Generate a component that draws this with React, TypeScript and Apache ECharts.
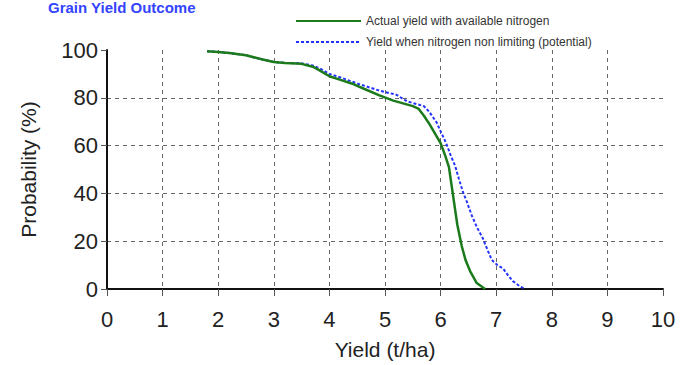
import React, { useEffect, useRef } from "react";
import * as echarts from "echarts";

const xTicks = [0, 1, 2, 3, 4, 5, 6, 7, 8, 9, 10];
const yTicks = [0, 20, 40, 60, 80, 100];

const actualYield: [number, number][] = [
  [1.8, 99.5], [2.0, 99.2], [2.2, 98.7], [2.5, 97.8], [2.8, 96], [3.0, 95], [3.2, 94.6],
  [3.5, 94.2], [3.7, 93], [3.8, 91.8], [4.0, 89], [4.2, 87.5], [4.4, 86], [4.6, 84],
  [4.9, 81], [5.15, 78.8], [5.5, 76.5], [5.6, 75.5], [5.7, 72.5], [5.8, 69], [5.9, 65],
  [6.0, 61], [6.08, 56], [6.15, 51], [6.2, 43], [6.25, 35], [6.3, 27], [6.38, 18],
  [6.45, 12], [6.53, 7.5], [6.65, 2.5], [6.8, 0],
];

const potentialYield: [number, number][] = [
  [1.8, 99.5], [2.0, 99.2], [2.2, 98.7], [2.5, 97.8], [2.8, 96], [3.0, 95], [3.2, 94.6],
  [3.5, 94.4], [3.7, 93.5], [3.85, 92], [4.0, 90], [4.2, 88.5], [4.5, 86], [4.9, 83],
  [5.2, 81.3], [5.4, 78.5], [5.7, 76.5], [5.8, 74], [5.93, 69.6], [6.02, 65], [6.1, 61],
  [6.18, 56], [6.26, 51.6], [6.33, 46], [6.4, 40.7], [6.48, 36], [6.56, 30.8], [6.65, 26],
  [6.76, 21.2], [6.85, 16], [6.92, 12.2], [7.02, 10], [7.12, 8.7], [7.22, 5.5], [7.3, 3.3],
  [7.42, 1.2], [7.52, 0],
];

const seriesNames = [
  "Actual yield with available nitrogen",
  "Yield when nitrogen non limiting (potential)",
];

const FONT = "'Liberation Sans', Arial, sans-serif";

export default function App() {
  const ref = useRef<HTMLDivElement>(null);
  useEffect(() => {
    if (!ref.current) return;
    const chart = echarts.init(ref.current, undefined, { renderer: "svg" });
    const dashed = { color: "#666", width: 1, type: [4, 4] as number[] };
    chart.setOption({
      animation: false,
      backgroundColor: "#ffffff",
      textStyle: { fontFamily: FONT },
      graphic: [
        {
          type: "text",
          left: 48,
          top: 0,
          style: {
            text: "Grain Yield Outcome",
            font: `bold 15px ${FONT}`,
            fill: "#3344ff",
          },
        },
      ],
      legend: {
        orient: "vertical",
        left: 290,
        top: 10,
        itemWidth: 65,
        itemHeight: 12,
        itemGap: 9,
        itemStyle: { opacity: 0, borderWidth: 0 },
        textStyle: { fontSize: 12, color: "#333", fontFamily: FONT },
        data: seriesNames,
      },
      grid: { left: 107, right: 20, top: 50, bottom: 73, containLabel: false },
      xAxis: {
        type: "value",
        min: xTicks[0],
        max: xTicks[xTicks.length - 1],
        interval: 1,
        name: "Yield (t/ha)",
        nameLocation: "middle",
        nameGap: 50,
        nameTextStyle: { fontSize: 21, color: "#222", fontFamily: FONT },
        axisLine: { show: true, lineStyle: { color: "#111", width: 2 } },
        axisTick: { show: true, length: 7, lineStyle: { color: "#555" } },
        axisLabel: { fontSize: 22, color: "#222", margin: 19, fontFamily: FONT },
        splitLine: { show: true, showMinLine: false, showMaxLine: false, lineStyle: dashed },
      },
      yAxis: {
        type: "value",
        min: yTicks[0],
        max: yTicks[yTicks.length - 1],
        interval: 20,
        name: "Probability (%)",
        nameLocation: "middle",
        nameGap: 68,
        nameTextStyle: { fontSize: 21, color: "#222", fontFamily: FONT },
        axisLine: { show: true, lineStyle: { color: "#111", width: 2 } },
        axisTick: { show: true, length: 6, lineStyle: { color: "#555" } },
        axisLabel: { fontSize: 22, color: "#222", margin: 9, fontFamily: FONT },
        splitLine: { show: true, showMinLine: false, showMaxLine: false, lineStyle: dashed },
      },
      series: [
        {
          name: seriesNames[0],
          type: "line",
          data: actualYield,
          showSymbol: false,
          symbol: "none",
          lineStyle: { color: "#1b7a1b", width: 2.5 },
          itemStyle: { color: "#1b7a1b" },
          z: 3,
        },
        {
          name: seriesNames[1],
          type: "line",
          data: potentialYield,
          showSymbol: false,
          symbol: "none",
          lineStyle: { color: "#2233ff", width: 2, type: [3, 2] },
          itemStyle: { color: "#2233ff" },
          z: 2,
        },
      ],
    });
    return () => chart.dispose();
  }, []);
  return (
    <div
      ref={ref}
      style={{ position: "fixed", left: 0, top: 0, width: 683, height: 365, background: "#fff" }}
    />
  );
}
